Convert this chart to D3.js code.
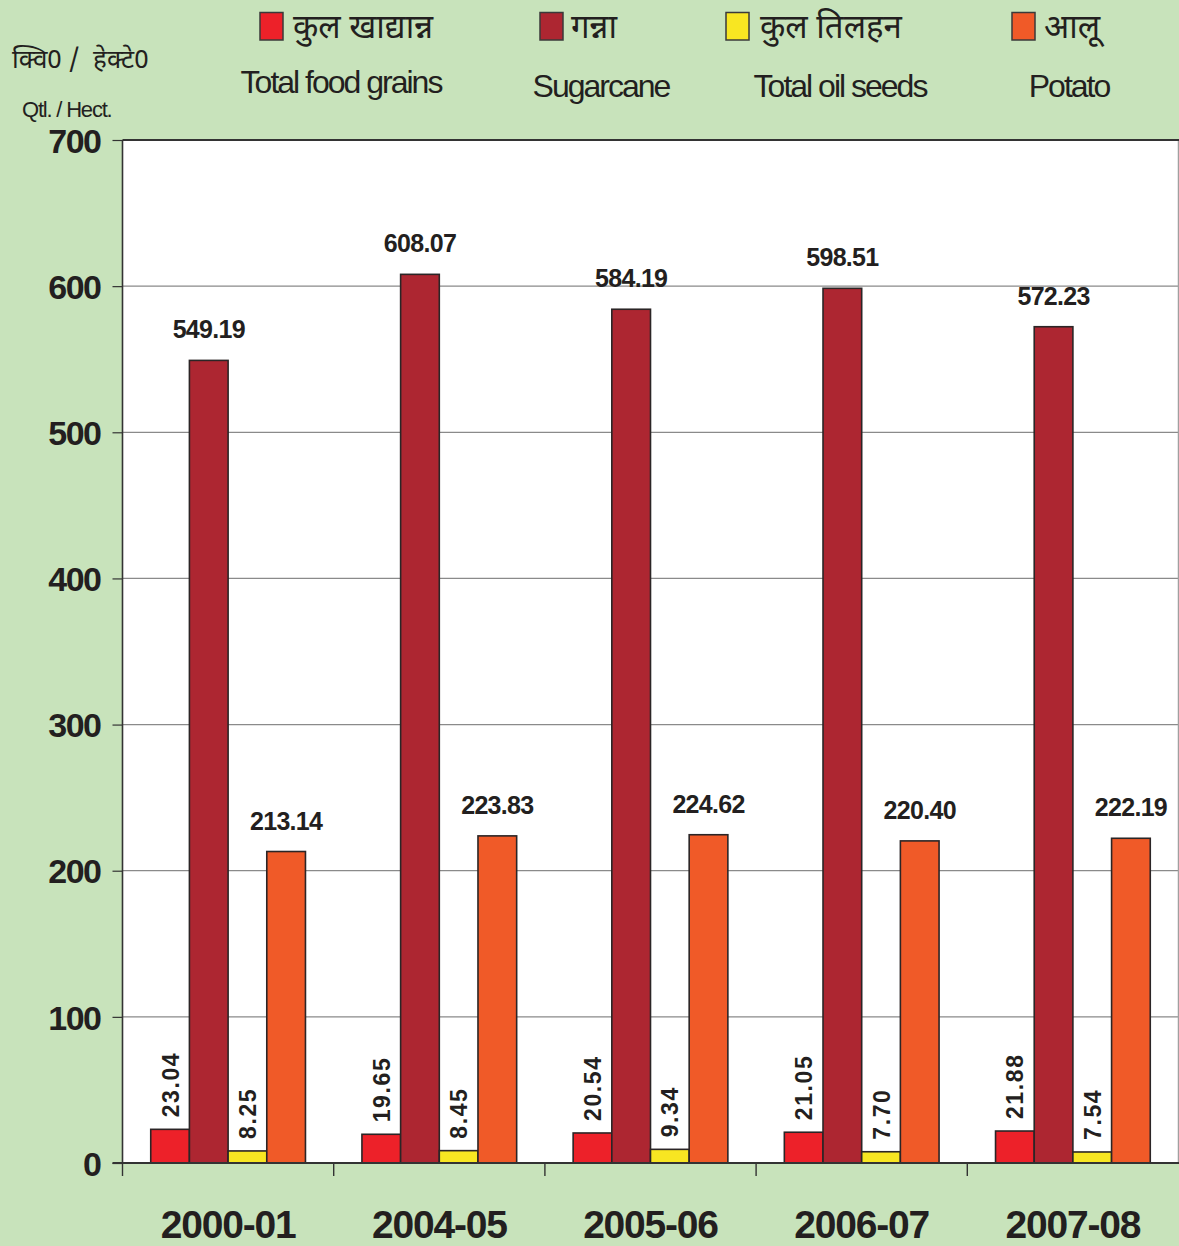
<!DOCTYPE html>
<html><head><meta charset="utf-8">
<script src="https://cdn.jsdelivr.net/npm/d3@7/dist/d3.min.js"></script>
<style>
html,body{margin:0;padding:0;background:#c8e3bb;}
svg{display:block;}
text{font-family:"Liberation Sans",Arial,Helvetica,sans-serif;fill:#231f20;}
.dev{font-family:"Noto Sans Devanagari","Lohit Devanagari","Mangal","Noto Sans",sans-serif;}
</style></head>
<body>
<svg id="chart" width="1179" height="1246"></svg>
<script>
const years = ["2000-01","2004-05","2005-06","2006-07","2007-08"];
const seriesKeys = ["foodgrains","sugarcane","oilseeds","potato"];
const seriesHindi = ["कुल खाद्यान्न","गन्ना","कुल तिलहन","आलू"];
const seriesEnglish = ["Total food grains","Sugarcane","Total oil seeds","Potato"];
const foodgrains = [23.04,19.65,20.54,21.05,21.88];
const sugarcane = [549.19,608.07,584.19,598.51,572.23];
const oilseeds = [8.25,8.45,9.34,7.70,7.54];
const potato = [213.14,223.83,224.62,220.40,222.19];
const yTicks = [0,100,200,300,400,500,600,700];
const unitHindi = "क्वि0 /  हेक्टे0";
const unitEnglish = "Qtl. / Hect.";

const colors = ["#ed2129","#ad2631","#f8e622","#f05a28"];
const values = [foodgrains,sugarcane,oilseeds,potato];
const rotatedSeries = [true,false,true,false];

const svg = d3.select("#chart");
const L = 122.5, R = 1178.5, T = 140, B = 1163;

const x0 = d3.scaleBand().domain(years).range([L,R]).paddingInner(0).paddingOuter(0);
const x1 = d3.scaleBand().domain(seriesKeys).range([0,x0.bandwidth()]).paddingOuter(0.73).paddingInner(0);
const y = d3.scaleLinear().domain([0,700]).range([B,T]);

// plot background
svg.append("rect").attr("x",L).attr("y",T).attr("width",R-L).attr("height",B-T).attr("fill","#fff");

// gridlines
svg.append("g").selectAll("line").data(yTicks.filter(d=>d>0 && d<700)).join("line")
  .attr("x1",L).attr("x2",R).attr("y1",d=>y(d)).attr("y2",d=>y(d))
  .attr("stroke","#8a8a8a").attr("stroke-width",1.2);

// right border
svg.append("line").attr("x1",R).attr("x2",R).attr("y1",T).attr("y2",B).attr("stroke","#a0a0a0").attr("stroke-width",1.5);
// top border
svg.append("line").attr("x1",L).attr("x2",R+1).attr("y1",T).attr("y2",T).attr("stroke","#333").attr("stroke-width",2.2);

// bars
const groups = svg.append("g").selectAll("g").data(years).join("g")
  .attr("transform",d=>`translate(${x0(d)},0)`);

seriesKeys.forEach((k,si)=>{
  groups.append("rect")
    .attr("x",x1(k)).attr("width",x1.bandwidth())
    .attr("y",(d,i)=>y(values[si][i])).attr("height",(d,i)=>B-y(values[si][i]))
    .attr("fill",colors[si]).attr("stroke","#2b2526").attr("stroke-width",1.6);
});

// value labels
seriesKeys.forEach((k,si)=>{
  groups.each(function(d,i){
    const g = d3.select(this);
    const v = values[si][i];
    const cx = x1(k)+x1.bandwidth()/2;
    const label = v.toFixed(2);
    if(rotatedSeries[si]){
      const yy = y(v)-12;
      g.append("text").attr("transform",`translate(${cx+8.5},${yy}) rotate(-90)`)
        .attr("text-anchor","start").attr("font-size",23).attr("font-weight","bold")
        .attr("letter-spacing",1.6).text(label);
    } else {
      g.append("text").attr("x",cx).attr("y",y(v)-22)
        .attr("text-anchor","middle").attr("font-size",25).attr("font-weight","bold")
        .attr("letter-spacing",-0.7).text(label);
    }
  });
});

// left axis
const yAxis = svg.append("g").attr("transform",`translate(${L},0)`)
  .call(d3.axisLeft(y).tickValues(yTicks).tickSize(10).tickPadding(12).tickFormat(d3.format("d")));
yAxis.select(".domain").attr("stroke","#333").attr("stroke-width",1.6).attr("d",`M0,${T}V${B}`);
yAxis.selectAll(".tick line").attr("stroke","#333").attr("stroke-width",1.2);
yAxis.selectAll(".tick text").attr("font-size",34).attr("font-weight","bold")
  .attr("letter-spacing",-1.5).attr("fill","#231f20").attr("dy","0.36em")
  .attr("font-family","'Liberation Sans',Arial,sans-serif");

// bottom axis
svg.append("line").attr("x1",L-10).attr("x2",R+1).attr("y1",B).attr("y2",B).attr("stroke","#333").attr("stroke-width",1.8);
svg.append("g").selectAll("line").data(years).join("line")
  .attr("x1",d=>x0(d)).attr("x2",d=>x0(d)).attr("y1",B).attr("y2",B+13)
  .attr("stroke","#333").attr("stroke-width",1.4);
svg.append("g").selectAll("text").data(years).join("text")
  .attr("x",d=>x0(d)+x0.bandwidth()/2).attr("y",1238)
  .attr("text-anchor","middle").attr("font-size",39).attr("font-weight","bold")
  .attr("letter-spacing",-1.2).text(d=>d);

// unit labels
svg.append("text").attr("class","dev").attr("x",12).attr("y",68)
  .attr("font-size",26).attr("xml:space","preserve").style("white-space","pre").text(unitHindi);
svg.append("text").attr("x",22).attr("y",117).attr("font-size",22)
  .attr("letter-spacing",-1.2).text(unitEnglish);

// legend
const swX = [260,540,726,1012];
const hindiX = [293,571,760,1044];
const engCX = [341,601,840,1069];
const engY = [93,97,97,97];
seriesKeys.forEach((k,i)=>{
  svg.append("rect").attr("x",swX[i]).attr("y",12.5).attr("width",23).attr("height",27.5)
    .attr("fill",colors[i]).attr("stroke","#3a3a3a").attr("stroke-width",1.5);
  svg.append("text").attr("class","dev").attr("x",hindiX[i]).attr("y",38)
    .attr("font-size",33).text(seriesHindi[i]);
  svg.append("text").attr("x",engCX[i]).attr("y",engY[i]).attr("text-anchor","middle")
    .attr("font-size",32).attr("letter-spacing",-2).text(seriesEnglish[i]);
});
</script>
</body></html>
